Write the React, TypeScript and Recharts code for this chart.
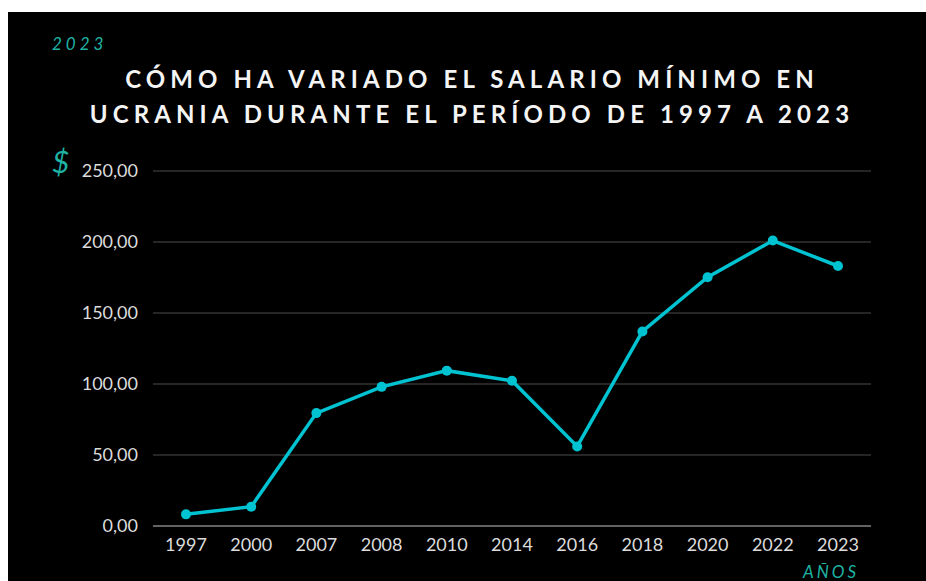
import { LineChart, Line, XAxis, YAxis, CartesianGrid } from 'recharts';

// Salario mínimo en Ucrania (USD)
const YEARS = ['1997', '2000', '2007', '2008', '2010', '2014', '2016', '2018', '2020', '2022', '2023'];
const SALARY = [8.2, 13.6, 79.5, 98, 109.4, 102.3, 56, 137, 175.2, 201, 183.1];
const Y_TICKS = [0, 50, 100, 150, 200, 250];

const CYAN = '#00c3d2';
const TEAL = '#1fb3a4';
const FONT = 'Lato, "Noto Sans", sans-serif';

const data = YEARS.map((year, i) => ({ year, salary: SALARY[i] }));

const fmt = (v: number) => v.toFixed(2).replace('.', ',');

export default function App() {
    return (
        <div
            style={{
                position: 'absolute',
                left: 8,
                top: 12,
                width: 918,
                height: 569,
                background: '#000',
                fontFamily: FONT,
                overflow: 'hidden',
            }}
        >
            <div
                style={{
                    position: 'absolute',
                    left: 44,
                    top: 23,
                    fontSize: 17,
                    lineHeight: 1,
                    fontStyle: 'italic',
                    letterSpacing: 4,
                    color: TEAL,
                }}
            >
                2023
            </div>
            <div
                style={{
                    position: 'absolute',
                    left: 5,
                    top: 49,
                    width: 918,
                    textAlign: 'center',
                    fontSize: 24,
                    lineHeight: '35px',
                    fontWeight: 700,
                    letterSpacing: 5.1,
                    color: '#f4f4f4',
                }}
            >
                CÓMO HA VARIADO EL SALARIO MÍNIMO EN
                <br />
                UCRANIA DURANTE EL PERÍODO DE 1997 A 2023
            </div>
            <div
                style={{
                    position: 'absolute',
                    left: 44,
                    top: 134,
                    fontSize: 30,
                    lineHeight: 1,
                    fontStyle: 'italic',
                    color: TEAL,
                }}
            >
                $
            </div>
            <div
                style={{
                    position: 'absolute',
                    left: 795,
                    top: 551,
                    fontSize: 17,
                    lineHeight: 1,
                    fontStyle: 'italic',
                    letterSpacing: 3,
                    color: TEAL,
                }}
            >
                AÑOS
            </div>
            <div style={{ position: 'absolute', left: 0, top: 0 }}>
                <LineChart
                    width={918}
                    height={569}
                    data={data}
                    margin={{ top: 159, right: 55, left: 0, bottom: 25 }}
                >
                    <CartesianGrid stroke="#333" strokeWidth={1.5} vertical={false} />
                    <XAxis
                        dataKey="year"
                        height={30}
                        padding={{ left: 33, right: 33 }}
                        axisLine={{ stroke: '#777', strokeWidth: 1.5 }}
                        tickLine={false}
                        tickMargin={6}
                        tick={{ fill: '#dcdcdc', fontSize: 18, fontFamily: FONT }}
                        interval={0}
                    />
                    <YAxis
                        width={145}
                        domain={[0, 250]}
                        ticks={Y_TICKS}
                        tickFormatter={fmt}
                        axisLine={false}
                        tickLine={false}
                        tickMargin={9}
                        tick={{ fill: '#dcdcdc', fontSize: 18, fontFamily: FONT }}
                    />
                    <Line
                        type="linear"
                        dataKey="salary"
                        stroke={CYAN}
                        strokeWidth={3.5}
                        dot={{ r: 5, fill: CYAN, stroke: CYAN, strokeWidth: 0 }}
                        isAnimationActive={false}
                    />
                </LineChart>
            </div>
        </div>
    );
}
